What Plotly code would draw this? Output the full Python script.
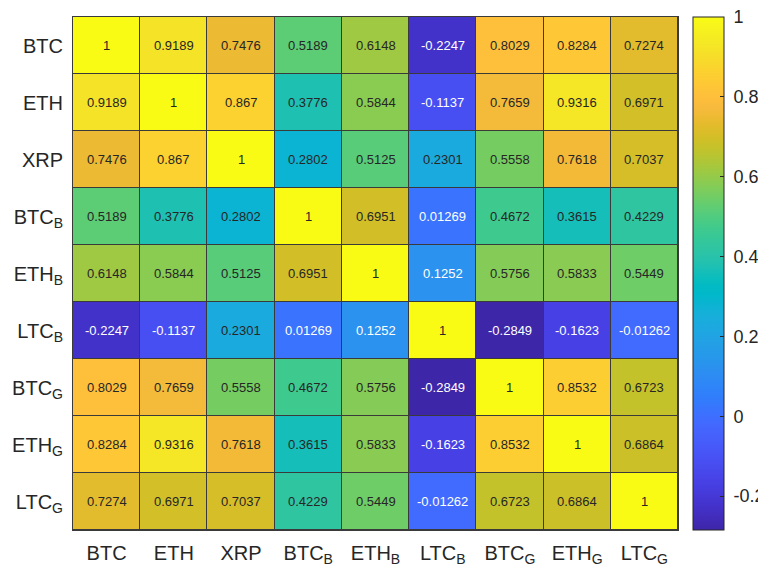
import plotly.graph_objects as go

labels = ["BTC", "ETH", "XRP", "BTC<sub>B</sub>", "ETH<sub>B</sub>", "LTC<sub>B</sub>",
          "BTC<sub>G</sub>", "ETH<sub>G</sub>", "LTC<sub>G</sub>"]

row_btc  = [1, 0.9189, 0.7476, 0.5189, 0.6148, -0.2247, 0.8029, 0.8284, 0.7274]
row_eth  = [0.9189, 1, 0.867, 0.3776, 0.5844, -0.1137, 0.7659, 0.9316, 0.6971]
row_xrp  = [0.7476, 0.867, 1, 0.2802, 0.5125, 0.2301, 0.5558, 0.7618, 0.7037]
row_btcb = [0.5189, 0.3776, 0.2802, 1, 0.6951, 0.01269, 0.4672, 0.3615, 0.4229]
row_ethb = [0.6148, 0.5844, 0.5125, 0.6951, 1, 0.1252, 0.5756, 0.5833, 0.5449]
row_ltcb = [-0.2247, -0.1137, 0.2301, 0.01269, 0.1252, 1, -0.2849, -0.1623, -0.01262]
row_btcg = [0.8029, 0.7659, 0.5558, 0.4672, 0.5756, -0.2849, 1, 0.8532, 0.6723]
row_ethg = [0.8284, 0.9316, 0.7618, 0.3615, 0.5833, -0.1623, 0.8532, 1, 0.6864]
row_ltcg = [0.7274, 0.6971, 0.7037, 0.4229, 0.5449, -0.01262, 0.6723, 0.6864, 1]

z = [row_btc, row_eth, row_xrp, row_btcb, row_ethb, row_ltcb, row_btcg, row_ethg, row_ltcg]

cb_ticks = [-0.2, 0, 0.2, 0.4, 0.6, 0.8, 1]
cb_ticktext = ["-0.2", "0", "0.2", "0.4", "0.6", "0.8", "1"]

parula = [
    (0.2422, 0.1504, 0.6603), (0.2504, 0.1650, 0.7076), (0.2578, 0.1818, 0.7511), (0.2647, 0.1978, 0.7952),
    (0.2706, 0.2147, 0.8364), (0.2751, 0.2342, 0.8710), (0.2783, 0.2559, 0.8991), (0.2803, 0.2782, 0.9221),
    (0.2813, 0.3006, 0.9414), (0.2810, 0.3228, 0.9579), (0.2795, 0.3447, 0.9717), (0.2760, 0.3667, 0.9829),
    (0.2699, 0.3892, 0.9906), (0.2602, 0.4123, 0.9952), (0.2440, 0.4358, 0.9988), (0.2206, 0.4603, 0.9973),
    (0.1963, 0.4847, 0.9892), (0.1834, 0.5074, 0.9798), (0.1786, 0.5289, 0.9682), (0.1764, 0.5499, 0.9520),
    (0.1687, 0.5703, 0.9359), (0.1540, 0.5902, 0.9218), (0.1460, 0.6091, 0.9079), (0.1380, 0.6276, 0.8973),
    (0.1248, 0.6459, 0.8883), (0.1113, 0.6635, 0.8763), (0.0952, 0.6798, 0.8598), (0.0689, 0.6948, 0.8394),
    (0.0297, 0.7082, 0.8163), (0.0036, 0.7203, 0.7917), (0.0067, 0.7312, 0.7660), (0.0433, 0.7411, 0.7394),
    (0.0964, 0.7500, 0.7120), (0.1408, 0.7584, 0.6842), (0.1717, 0.7670, 0.6554), (0.1938, 0.7758, 0.6251),
    (0.2161, 0.7843, 0.5923), (0.2470, 0.7918, 0.5567), (0.2906, 0.7973, 0.5188), (0.3406, 0.8008, 0.4789),
    (0.3909, 0.8029, 0.4354), (0.4456, 0.8024, 0.3909), (0.5044, 0.7993, 0.3480), (0.5616, 0.7942, 0.3045),
    (0.6174, 0.7876, 0.2612), (0.6720, 0.7793, 0.2227), (0.7242, 0.7698, 0.1910), (0.7738, 0.7598, 0.1646),
    (0.8203, 0.7498, 0.1535), (0.8634, 0.7406, 0.1596), (0.9035, 0.7330, 0.1774), (0.9393, 0.7288, 0.2100),
    (0.9728, 0.7298, 0.2394), (0.9956, 0.7434, 0.2371), (0.9970, 0.7659, 0.2199), (0.9952, 0.7893, 0.2028),
    (0.9892, 0.8136, 0.1885), (0.9786, 0.8386, 0.1766), (0.9676, 0.8639, 0.1643), (0.9610, 0.8890, 0.1537),
    (0.9597, 0.9135, 0.1423), (0.9628, 0.9373, 0.1265), (0.9691, 0.9606, 0.1064), (0.9769, 0.9839, 0.0805),
]
n = len(parula)
colorscale = [[i / (n - 1), "rgb(%d,%d,%d)" % tuple(round(c * 255) for c in rgb)] for i, rgb in enumerate(parula)]

zmin = min(min(r) for r in z)
zmax = max(max(r) for r in z)

fig = go.Figure()
fig.add_trace(go.Heatmap(
    z=z, x=labels, y=labels, colorscale=colorscale, zmin=zmin, zmax=zmax,
    xgap=1, ygap=1,
    colorbar=dict(
        x=1.0248, xanchor="left", xpad=0, ypad=0, y=0, yanchor="bottom", len=1, lenmode="fraction",
        thickness=31, thicknessmode="pixels",
        outlinecolor="#262626", outlinewidth=1,
        tickvals=cb_ticks, ticktext=["\u00a0" + t for t in cb_ticktext],
        ticks="inside", ticklen=4, tickcolor="#262626",
        ticklabeloverflow="allow",
        tickfont=dict(family="Liberation Sans, Arial", size=18, color="#262626"),
    ),
    hoverinfo="skip",
))

annotations = []
for i, row in enumerate(z):
    for j, v in enumerate(row):
        annotations.append(dict(
            x=labels[j], y=labels[i], text=f"{v:.4g}", showarrow=False,
            font=dict(family="Liberation Sans, Arial", size=13,
                      color="white" if v < 0.2 else "#262626"),
        ))

fig.update_layout(
    width=758, height=563,
    margin=dict(l=65, r=88, t=9, b=41, autoexpand=False),
    paper_bgcolor="white", plot_bgcolor="#3a3a3a",
    annotations=annotations,
    font=dict(family="Liberation Sans, Arial", color="#262626"),
)
fig.update_xaxes(showgrid=False, zeroline=False, ticks="", showline=True, linecolor="#3a3a3a",
                 linewidth=1, mirror=True, automargin=False,
                 tickfont=dict(size=20, color="#262626"), ticklabelstandoff=5)
fig.update_yaxes(showgrid=False, zeroline=False, ticks="", showline=True, linecolor="#3a3a3a",
                 linewidth=1, mirror=True, autorange="reversed", automargin=False,
                 tickfont=dict(size=20, color="#262626"), ticklabelstandoff=5)

fig.write_html("out.html")
